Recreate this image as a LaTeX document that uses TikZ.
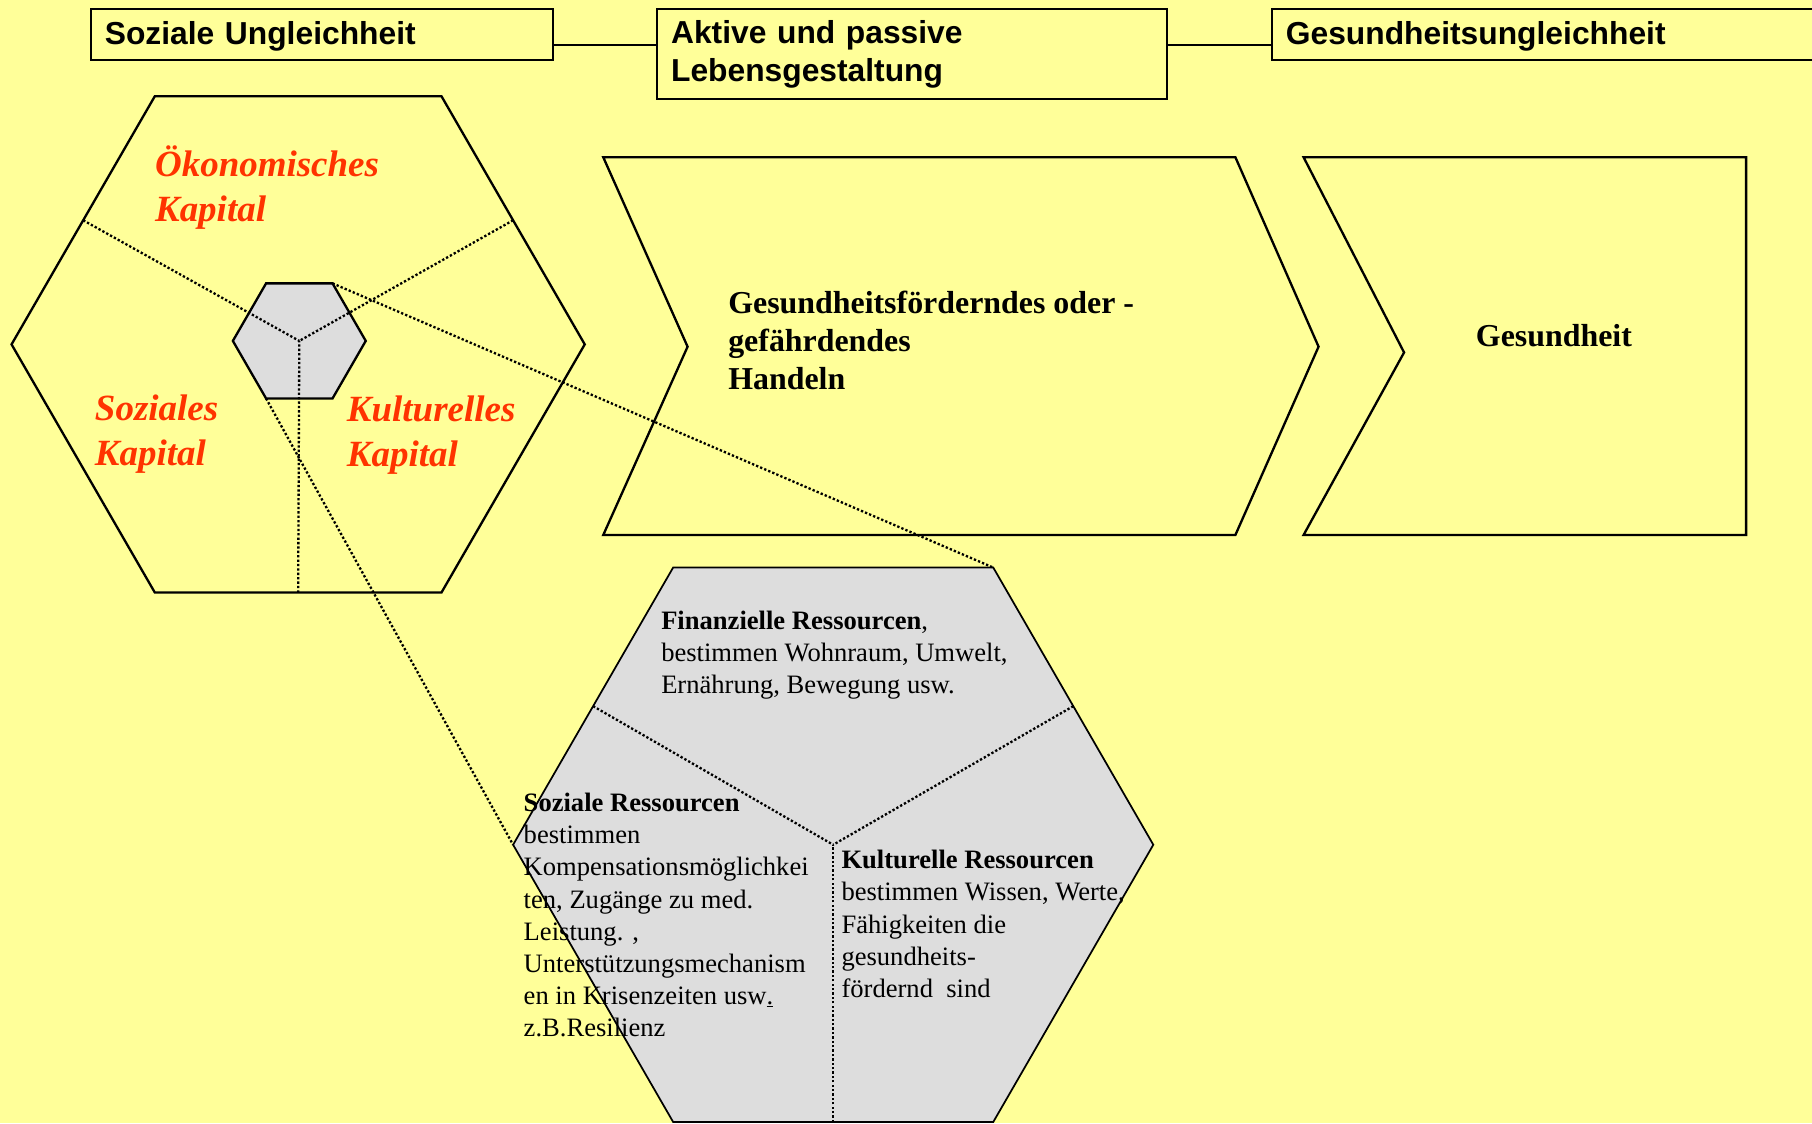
\documentclass[tikz,border=0pt]{standalone}
\usepackage{fontspec}
\setmainfont{Liberation Serif}
\setsansfont{Liberation Sans}
\usetikzlibrary{shapes.geometric}

\definecolor{bgyellow}{RGB}{255,255,153}
\definecolor{hexgray}{RGB}{221,221,221}
\definecolor{kapitalred}{RGB}{255,51,0}

\tikzset{
  topbox/.style={draw=black, line width=1.5pt, fill=bgyellow, anchor=north west, inner xsep=12pt, inner ysep=0pt, align=left, font=\sffamily\bfseries\fontsize{27.5}{33}\selectfont},
  hexa/.style={shape=regular polygon, regular polygon sides=6, draw=black, line width=2pt, inner sep=0pt, outer sep=0pt},
  chevron/.style={draw=black, line width=2pt, fill=bgyellow, line join=miter},
  dots/.style={line width=2pt, dash pattern=on 2pt off 1.8pt},
  kap/.style={anchor=base west, align=left, inner sep=0pt, text=kapitalred, font=\bfseries\itshape\fontsize{32}{39}\selectfont},
  handeln/.style={anchor=base west, align=left, inner sep=0pt, font=\bfseries\fontsize{27.6}{33}\selectfont},
  res/.style={anchor=base west, align=left, inner sep=0pt, font=\fontsize{23}{27.8}\selectfont}
}

\begin{document}
\begin{tikzpicture}[x=1pt, y=-1pt]
\useasboundingbox (0,0) rectangle (1568,972);
\fill[bgyellow] (0,0) rectangle (1568,972);

\node[topbox, text width=376pt, text depth=2pt, minimum height=44pt](ungleich) at (78,7) {Soziale Ungleichheit};
\node[topbox, text width=417pt, minimum height=78pt](lebens) at (568,7) {Aktive und passive\\Lebensgestaltung};
\node[topbox, text width=456pt, text depth=2pt, minimum height=44pt](gesungl) at (1100,7) {Gesundheitsungleichheit};
\coordinate (mitte) at (0,39);
\draw[line width=1.5pt] (ungleich.east |- mitte) -- (lebens.west |- mitte);
\draw[line width=1.5pt] (lebens.east |- mitte) -- (gesungl.west |- mitte);

\draw[chevron] (522,136) -- (1069,136) -- (1141,300) -- (1069,463) -- (522,463) -- (595,300) -- cycle;
\draw[chevron] (1128,136) -- (1511,136) -- (1511,463) -- (1128,463) -- (1215,305) -- cycle;
\node[handeln](handeln) at (630,337) {Gesundheitsförderndes oder -\\gefährdendes\\Handeln};
\node[handeln](gesundheit) at (1277,300) {Gesundheit};

\node[hexa, fill=bgyellow, minimum size=496pt](kapital) at (258,298) {};
\node[hexa, fill=hexgray, minimum size=115pt](kern) at (259,295) {};
\path[dots] (kapital.150) edge (kern.center);
\path[dots] (kapital.30) edge (kern.center);
\path[dots] (kapital.270) edge (kern.center);

\node[kap](oek) at (134,192) {Ökonomisches\\Kapital};
\node[kap](soz) at (82,403) {Soziales\\Kapital};
\node[kap](kul) at (300,404) {Kulturelles\\Kapital};

\node[hexa, fill=hexgray, line width=1.5pt, minimum size=554pt](ressourcen) at (721,731) {};
\path[dots] (kern.60) edge (ressourcen.60);
\path[dots] (kern.240) edge (ressourcen.180);
\path[dots] (ressourcen.150) edge (ressourcen.center);
\path[dots] (ressourcen.30) edge (ressourcen.center);
\path[dots] (ressourcen.270) edge (ressourcen.center);

\node[res](finanz) at (572,600) {\textbf{Finanzielle Ressourcen},\\bestimmen Wohnraum, Umwelt,\\Ernährung, Bewegung usw.};
\node[res](sozres) at (453,897) {\textbf{Soziale Ressourcen}\\bestimmen\\Kompensationsmöglichkei\\ten, Zugänge zu med.\\Leistung. ,\\Unterstützungsmechanism\\en in Krisenzeiten usw\underline{.}\\z.B.Resilienz};
\node[res](kulres) at (728,863) {\textbf{Kulturelle Ressourcen}\\bestimmen Wissen, Werte,\\Fähigkeiten die\\gesundheits-\\fördernd\ \ sind};
\end{tikzpicture}
\end{document}
